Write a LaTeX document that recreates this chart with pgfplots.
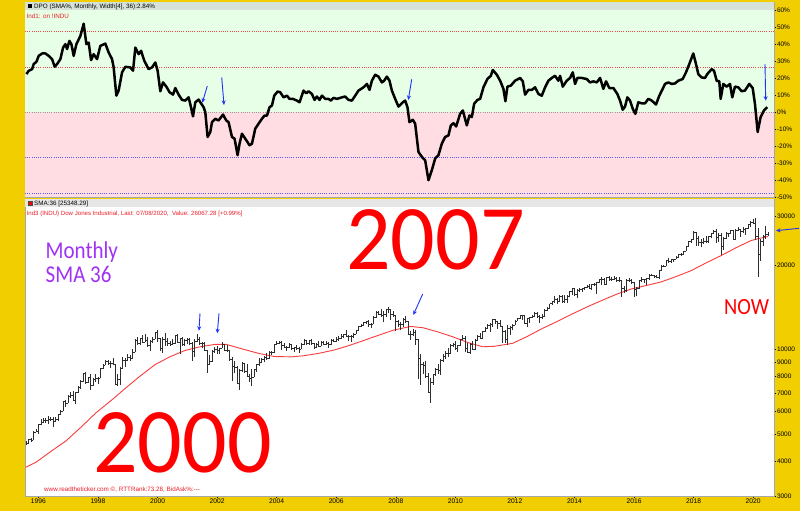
\documentclass[border=0pt]{standalone}
\usepackage{pgfplots}
\pgfplotsset{compat=1.18}
\usepackage{pgfplotstable}
\usepackage{graphicx}
\usepackage{fontspec}
\setmainfont{Liberation Sans}
\newfontfamily\carlito{Carlito}
\usetikzlibrary{arrows.meta}
\definecolor{bgyellow}{RGB}{240,206,0}
\definecolor{gfill}{RGB}{230,255,230}
\definecolor{pfill}{RGB}{255,221,227}
\definecolor{stripA}{RGB}{214,226,216}
\definecolor{stripB}{RGB}{230,230,230}
\definecolor{txtred}{RGB}{235,30,40}
\definecolor{smared}{RGB}{250,60,60}
\definecolor{arrowblue}{RGB}{30,50,250}
\definecolor{purp}{RGB}{160,50,245}
\definecolor{barcol}{RGB}{45,45,45}
\definecolor{dotred}{RGB}{245,70,70}
\definecolor{dotblue}{RGB}{90,90,250}
\pgfdeclareplotmark{rt}{\pgfpathmoveto{\pgfpointorigin}\pgfpathlineto{\pgfpoint{1.3pt}{0pt}}\pgfusepathqstroke}
\pgfdeclareplotmark{lt}{\pgfpathmoveto{\pgfpointorigin}\pgfpathlineto{\pgfpoint{-1.3pt}{0pt}}\pgfusepathqstroke}
% Monthly DJIA bars, Aug 1995 ... Jul 2020 (high low close)
\pgfplotstableread{
h l c
4720 4560 4611
4802 4600 4789
4830 4680 4756
5106 4740 5074
5216 5060 5117
5410 5000 5395
5630 5370 5485
5690 5460 5587
5690 5480 5569
5780 5420 5643
5730 5580 5655
5730 5300 5529
5740 5510 5616
5910 5570 5882
6100 5880 6029
6550 6020 6522
6590 6260 6448
6890 6440 6813
7060 6740 6878
7110 6560 6584
7040 6390 7009
7400 6980 7331
7800 7240 7673
8260 7640 8223
8300 7600 7622
8000 7620 7945
8200 7160 7442
7900 7440 7823
8150 7650 7908
7990 7540 7907
8580 7900 8546
8910 8500 8800
9190 8800 9063
9210 8850 8900
9090 8630 8952
9370 8850 8883
8900 7500 7539
8160 7400 7843
8640 7470 8592
9380 8590 9117
9370 8690 9181
9650 9120 9359
9560 9130 9307
10010 9270 9786
10880 9780 10789
11110 10400 10560
11000 10380 10971
11250 10640 10655
11330 10620 10829
11100 10210 10337
10780 9880 10729
11100 10570 10878
11570 10900 11497
11750 10640 10941
11040 9860 10128
11060 9730 10922
11420 10300 10734
10960 10270 10522
10760 10300 10448
10870 10360 10522
11310 10500 11215
11400 10560 10651
11040 9650 10971
11120 10320 10415
10940 10300 10788
10990 10430 10887
10980 10390 10495
10650 9100 9879
10870 9390 10735
11350 10620 10912
11100 10370 10502
10650 10170 10523
10610 9910 9950
10000 8230 8848
9550 8820 9075
9980 9050 9852
10210 9690 10022
10260 9610 9920
10160 9650 10106
10640 10100 10404
10490 9890 9946
10360 9770 9925
9950 9070 9243
9390 7700 8737
9080 8280 8664
8720 7540 7592
8540 7200 8397
9040 8300 8896
8930 8230 8342
8870 7990 8054
8170 7670 7891
8520 7420 7992
8520 7990 8480
8910 8350 8850
9340 8770 8985
9340 8940 9234
9460 9030 9416
9690 9260 9275
9860 9270 9801
9880 9570 9782
10490 9700 10454
10750 10410 10488
10760 10450 10584
10750 10000 10358
10570 10190 10226
10330 9850 10188
10530 10150 10435
10420 9980 10140
10250 9780 10174
10370 10050 10080
10240 9710 10027
10590 10010 10428
10870 10420 10783
10860 10360 10490
10840 10420 10766
10950 10400 10504
10600 10010 10193
10560 10100 10467
10700 10240 10275
10720 10260 10641
10720 10390 10482
10700 10380 10569
10630 10160 10440
10930 10400 10806
10950 10690 10718
11050 10660 10865
11140 10750 10993
11330 10950 11109
11410 11000 11367
11710 11090 11168
11240 10700 11150
11260 10680 11186
11440 11030 11381
11720 11330 11679
12170 11670 12081
12360 12000 12221
12530 12170 12463
12690 12340 12622
12790 12030 12269
12450 11940 12354
13160 12350 13063
13700 12990 13628
13700 13240 13409
14020 13120 13212
13760 12520 13358
14000 13030 13896
14200 13520 13930
13960 12720 13372
13780 13020 13265
13280 11630 12650
12770 12060 12266
12550 11730 12263
12920 12050 12820
13140 12480 12638
12660 11290 11350
11650 10830 11378
11800 11210 11544
11790 10370 10851
10880 7880 9325
9650 7450 8829
9030 8150 8776
9090 7910 8001
8280 7000 7063
7930 6470 7609
8200 7480 8168
8590 8040 8500
8880 8200 8447
9250 8090 9172
9630 9050 9496
9920 9250 9712
10120 9430 9713
10470 9680 10345
10580 10230 10428
10730 10030 10067
10400 9840 10325
10920 10320 10857
11260 10840 11009
11210 9770 10137
10600 9740 9774
10590 9610 10466
10720 9930 10015
10950 9990 10788
11250 10710 11118
11450 10930 11006
11630 11000 11578
12020 11570 11892
12390 11890 12226
12420 11550 12320
12880 12090 12811
12880 12300 12570
12580 11860 12414
12750 12090 12143
12180 10600 11614
11720 10600 10913
12280 10400 11955
12190 11230 12046
12330 11770 12218
12770 12210 12633
13010 12630 12952
13290 12900 13212
13340 12710 13214
13280 12350 12393
12900 12040 12880
13110 12490 13009
13330 12990 13091
13660 13070 13437
13600 13030 13096
13290 12470 13026
13350 12880 13104
13970 13100 13861
14150 13780 14054
14590 13940 14579
14890 14440 14840
15540 14690 15116
15340 14550 14910
15640 14870 15500
15660 14760 14810
15710 14720 15130
15720 14720 15546
16170 15480 16086
16590 15700 16577
16590 15630 15699
16400 15340 16322
16590 16020 16458
16630 16020 16581
16740 16330 16717
16960 16660 16827
17150 16560 16563
17150 16330 17098
17350 16950 17043
17400 15860 17391
17900 17360 17828
18100 17070 17823
18000 17140 17165
18240 17040 18133
18290 17600 17776
18170 17580 17841
18350 17740 18011
18140 17600 17620
18130 17400 17690
17710 15370 16528
16930 15940 16285
17800 16010 17664
17980 17400 17720
17900 17140 17425
17400 15450 16466
16800 15500 16517
17790 16410 17685
18170 17480 17774
17890 17330 17787
18020 17060 17930
18620 17710 18432
18670 18290 18401
18540 17990 18308
18400 17960 18142
19150 17880 19124
19990 19130 19763
20130 19680 19864
20890 19830 20812
21170 20410 20663
21000 20380 20941
21110 20550 21009
21540 20990 21350
21930 21280 21891
22180 21600 21948
22420 21710 22405
23490 22420 23377
24330 23240 24272
24880 24120 24719
26620 24810 26149
26310 23360 25029
25450 23510 24103
24860 23340 24163
25090 23920 24416
25400 24000 24271
25550 24080 25415
26170 25120 25965
26770 25810 26458
26950 24120 25116
25980 24270 25538
25980 21710 23327
25150 22640 24999
26240 24880 25916
26110 25210 25929
26700 25990 26593
26630 24800 24815
26910 24680 26600
27400 26580 26864
27010 25340 26403
27310 25980 26917
27200 25740 27046
28170 27050 28051
28700 27330 28538
29370 28170 28256
29570 24680 25409
27100 18210 21917
24760 20740 24346
25760 23360 25383
27580 24840 25813
26300 25520 26067
}\djia
% SMA 36 (red line)
\pgfplotstableread{
t s
1995.58 3800
1995.92 3960
1996.42 4330
1996.92 4713
1997.42 5270
1997.92 5929
1998.52 6684
1998.92 7276
1999.42 8050
1999.92 8841
2000.42 9430
2000.92 9924
2001.42 10230
2001.92 10434
2002.30 10440
2002.92 10003
2003.42 9680
2003.92 9446
2004.50 9420
2004.92 9508
2005.42 9700
2005.92 9958
2006.42 10330
2006.92 10776
2007.42 11250
2007.92 11733
2008.50 12100
2008.92 11965
2009.42 11560
2009.92 11103
2010.42 10600
2010.92 10236
2011.30 10270
2011.92 10526
2012.42 11150
2012.92 11898
2013.42 12600
2013.92 13394
2014.42 14200
2014.92 14984
2015.42 15780
2015.92 16478
2016.42 16950
2016.92 17459
2017.42 18250
2017.92 19151
2018.42 20400
2018.92 21654
2019.42 23100
2019.92 24497
2020.17 24900
2020.50 25348
}\sma
% DPO (SMA%) line: horizontal position px (1996 at 38, 29.8 per year), value in %
\pgfplotstableread{
px v
26 22.6
28.3 24.5
31.7 25.5
33.3 28.5
36 29.8
38.3 33.3
41.7 34.7
45 34.7
48.3 33.3
51.7 31.4
54.3 26.9
56.7 28.5
60 31.4
62.7 38.2
65 40.2
66.7 37.3
69 42.1
71 40.2
73.3 33.3
76 40.2
80 45.0
83.3 52.2
86 40.2
88.3 41.1
90.7 30.8
93.3 34.3
96.7 31.4
100 39.2
105 40.5
108.3 35.3
111.7 31.4
113.3 26.5
116 9.9
118.3 12.9
121.7 23.6
125 26.9
130 26.5
132.7 24.6
135 38.2
138.3 34.3
140.7 36.3
144 30.4
148.3 25.5
151.7 26.5
155 29.4
157.3 24.6
160 12.5
162.7 17.7
166 15.2
169.3 11.9
172.7 10.5
175 14.4
178.3 10.5
181.7 7.4
185 7.0
188.3 8.9
190.7 3.1
192.7 -2.3
195 6.0
198.3 7.6
201 5.1
203.3 3.1
205 0.2
207.3 -14.4
210 -11.5
211.7 -5.7
215 -3.7
218.3 -4.7
222.7 -1.2
226 -4.7
228.3 -5.7
231.7 -14.4
234.3 -15.4
237.3 -25.1
239.3 -18.3
241.7 -12.5
245 -15.4
249.3 -19.3
251.7 -18.3
255 -9.5
258.3 -6.6
261.7 -3.7
264.3 -1.8
266.7 -1.8
269.3 3.1
271.7 4.1
274 9.9
277.3 12.3
280 11.9
283.3 8.9
286.7 9.9
289.3 8.0
292.7 8.0
296.7 7.0
299.3 6.0
303.3 12.9
306 11.3
308.3 12.5
311.7 10.9
314.3 7.4
316.7 9.4
319.3 7.4
321.7 9.9
325 8.0
328.3 8.0
330.7 7.0
333.3 8.6
336.7 8.0
341.7 8.9
345 9.4
348.3 7.4
351.7 7.0
355 9.9
358.3 12.9
363.3 14.8
366.7 16.8
369.3 13.3
371.7 18.7
375 22.2
378.3 21.1
381.7 17.7
384 18.7
386.7 21.1
389.3 18.7
391.7 12.9
395 8.0
398.3 3.5
402.7 6.0
405 7.0
407.3 3.1
409.3 -5.7
412.7 -4.3
415 -6.6
418.3 -23.2
421.7 -26.1
425 -28.1
428.3 -39.8
431.7 -33.9
435 -27.1
438.3 -25.1
441.7 -18.3
445 -14.4
448.3 -13.5
450.7 -7.6
453.3 -6.3
456 -8.2
460 -0.8
462.7 1.2
466.7 -7.6
469.3 -1.8
471.7 -2.7
474 5.1
477.3 7.4
480 8.0
483.3 14.8
487.3 19.7
490.7 21.6
492.7 25.0
496.7 22.2
500 18.7
503.3 13.9
505.3 6.6
507.3 15.2
510.7 15.8
515 18.7
520 20.3
522.7 18.3
525 10.5
528.3 13.3
531.7 13.3
535 14.8
538.3 10.9
541.7 9.9
545 14.8
548.3 18.7
551.7 20.3
555 21.6
558.3 18.7
560 21.6
562.7 15.2
566.7 18.7
570 20.3
572.7 23.6
575 16.8
577.3 20.3
581.7 20.3
586.7 19.7
590 17.7
593.3 18.3
596.7 17.7
600 20.3
603.3 13.9
606 18.3
609.3 14.4
613.3 14.4
617.3 10.9
620 7.0
622.7 1.6
625 3.5
627.3 8.9
630 7.0
632.7 2.2
635.3 -0.8
638.3 6.0
641.7 5.4
645 5.4
648.3 8.0
651.7 7.0
656 4.7
659.3 9.9
662.7 13.9
665 16.8
668.3 17.7
671.7 16.8
675 17.1
678.3 18.7
682.7 19.7
686 23.6
689.3 28.5
693.3 34.7
696 28.5
698.3 22.6
701.7 20.6
705 20.3
707.3 22.6
711.7 25.5
714 24.6
716.7 18.7
719.3 18.3
720.7 8.0
723.3 16.8
726.7 15.2
730 16.8
732.3 8.9
735 15.2
738.3 14.8
741.7 12.5
745 12.9
749.3 16.8
752.7 14.4
755 5.1
757.7 -11.5
760.7 -2.7
764 1.2
767.3 3.1
}\dpo
\begin{document}
\begin{tikzpicture}
\fill[bgyellow] (0pt,0pt) rectangle (800pt,511pt);
% ---------------- top panel: DPO ----------------
\begin{axis}[at={(25pt,313.5pt)}, anchor=south west, scale only axis,
  width=749pt, height=195pt,
  xmin=1995.55, xmax=2020.7, ymin=-50, ymax=64.7,
  axis background/.style={fill=white},
  xtick=\empty,
  ytick={-50,-40,...,60},
  yticklabels={-50\%,-40\%,-30\%,-20\%,-10\%,0\%,10\%,20\%,30\%,40\%,50\%,60\%},
  ytick pos=right, yticklabel pos=right,
  tick align=outside, major tick length=2pt,
  tick style={black, line width=0.5pt},
  yticklabel style={font=\fontsize{6.5}{7}\selectfont, inner sep=0.8pt},
  axis line style={draw=gray!70, line width=0.6pt},
  clip=true]
\fill[gfill] (axis cs:1995.55,0) rectangle (axis cs:2020.7,64.7);
\fill[pfill] (axis cs:1995.55,-50) rectangle (axis cs:2020.7,0);
\fill[stripA] (axis cs:1995.55,60.3) rectangle (axis cs:2020.7,64.7);
\draw[dotred, line width=0.8pt, dash pattern=on 1pt off 1.2pt] (axis cs:1995.55,47.6) -- (axis cs:2020.7,47.6);
\draw[dotred, line width=0.8pt, dash pattern=on 1pt off 1.2pt] (axis cs:1995.55,26.5) -- (axis cs:2020.7,26.5);
\draw[gray!80, line width=0.8pt, dash pattern=on 1pt off 1.2pt] (axis cs:1995.55,0) -- (axis cs:2020.7,0);
\draw[dotblue, line width=0.8pt, dash pattern=on 1pt off 1.2pt] (axis cs:1995.55,-26.5) -- (axis cs:2020.7,-26.5);
\draw[dotblue, line width=0.8pt, dash pattern=on 1pt off 1.2pt] (axis cs:1995.55,-47.6) -- (axis cs:2020.7,-47.6);
\addplot[black, line width=2.5pt, line join=round, mark=none]
  table[x expr=1996+(\thisrow{px}-38)/29.8, y=v] \dpo;
\end{axis}
% ---------------- bottom panel: DJIA monthly bars ----------------
\begin{axis}[at={(25pt,15pt)}, anchor=south west, scale only axis,
  width=749pt, height=296.5pt,
  xmin=1995.55, xmax=2020.7, ymode=log, ymin=3000, ymax=34370,
  axis background/.style={fill=white},
  xtick={1996,1998,...,2020},
  xticklabels={1996,1998,2000,2002,2004,2006,2008,2010,2012,2014,2016,2018,2020},
  ytick={3000,4000,5000,6000,7000,8000,9000,10000,20000,30000},
  yticklabels={3000,4000,5000,6000,7000,8000,9000,10000,20000,30000},
  xtick pos=bottom, ytick pos=right, yticklabel pos=right,
  tick align=outside, major tick length=2pt,
  tick style={black, line width=0.5pt},
  yticklabel style={font=\fontsize{6.5}{7}\selectfont, inner sep=0.8pt},
  xticklabel style={font=\fontsize{6.7}{7}\selectfont, inner sep=1pt},
  axis line style={draw=gray!70, line width=0.6pt},
  clip=true]
\fill[stripB] (axis cs:1995.55,32300) rectangle (axis cs:2020.7,34370);
\addplot[smared, line width=0.9pt, mark=none] table[x=t, y=s] \sma;
\addplot[barcol, only marks, mark=rt, mark options={line width=0.7pt},
  error bars/.cd, y dir=both, y explicit, error mark=none,
  error bar style={line width=0.7pt, barcol}]
  table[x expr=1995+(7+\coordindex)/12, y=c,
        y error plus expr=\thisrow{h}-\thisrow{c},
        y error minus expr=\thisrow{c}-\thisrow{l}] \djia;
\addplot[barcol, only marks, mark=lt, mark options={line width=0.7pt},
  skip coords between index={299}{300}]
  table[x expr=1995+(8+\coordindex)/12, y=c] \djia;
\end{axis}
% ---------------- texts ----------------
\begin{scope}[x=1pt,y=1pt]
\fill[black] (28,502.5) rectangle (32,506.5);
\node[anchor=west, inner sep=0, font=\fontsize{6.3}{7}\selectfont] at (34,504.5) {DPO (SMA\%, Monthly, Width[4], 36):2.84\%};
\node[anchor=west, inner sep=0, text=txtred, font=\fontsize{6.3}{7}\selectfont] at (26.5,495) {Ind1: on !INDU};
\fill[red, draw=black!70, line width=0.4pt] (28,305.5) rectangle (32,309.5);
\node[anchor=west, inner sep=0, font=\fontsize{6.3}{7}\selectfont] at (34,307.5) {SMA:36 [25348.29]};
\node[anchor=west, inner sep=0, text=txtred, font=\fontsize{6.1}{7}\selectfont] at (26.5,297) {Ind3 (INDU) Dow Jones Industrial, Last: 07/08/2020,\ \ Value: 26067.28 [+0.99\%]};
\node[anchor=west, inner sep=0, text=txtred, font=\fontsize{6.3}{7}\selectfont] at (44,21.5) {www.readtheticker.com \textcopyright, RTTRank:73.28, BidAsk\%:{-}{-}{-}};
\node[anchor=base west, inner sep=0, text depth=0pt, text=red, font=\carlito\fontsize{88}{88}\selectfont] at (346,241) {\scalebox{1}[1.05]{2007}};
\node[anchor=base west, inner sep=0, text depth=0pt, text=red, font=\carlito\fontsize{88}{88}\selectfont] at (93,38) {\scalebox{1}[1.05]{2000}};
\node[anchor=base west, inner sep=0, text depth=0pt, text=purp, font=\carlito\fontsize{21}{21}\selectfont] at (45.5,252) {\scalebox{1}[1.15]{Monthly}};
\node[anchor=base west, inner sep=0, text depth=0pt, text=purp, font=\carlito\fontsize{21}{21}\selectfont] at (45.5,228) {\scalebox{1}[1.15]{SMA 36}};
\node[anchor=base west, inner sep=0, text depth=0pt, text=red, font=\carlito\fontsize{20.5}{21}\selectfont] at (724,196) {\scalebox{1}[1.13]{NOW}};
\begin{scope}[arrowblue, line width=0.9pt, -{Stealth[length=4.5pt,width=4pt]}]
\draw (207.3,425) -- (202.3,408.3);
\draw (221.7,433.7) -- (224,406);
\draw (411.7,431.7) -- (408.3,411);
\draw (765,447) -- (765.7,410.3);
\draw (200,197.7) -- (199,180.3);
\draw (219,197.7) -- (217.3,177.7);
\draw (422.7,217) -- (413.3,196);
\draw (799,282.7) -- (776,280.3);
\end{scope}
\end{scope}
\end{tikzpicture}
\end{document}
